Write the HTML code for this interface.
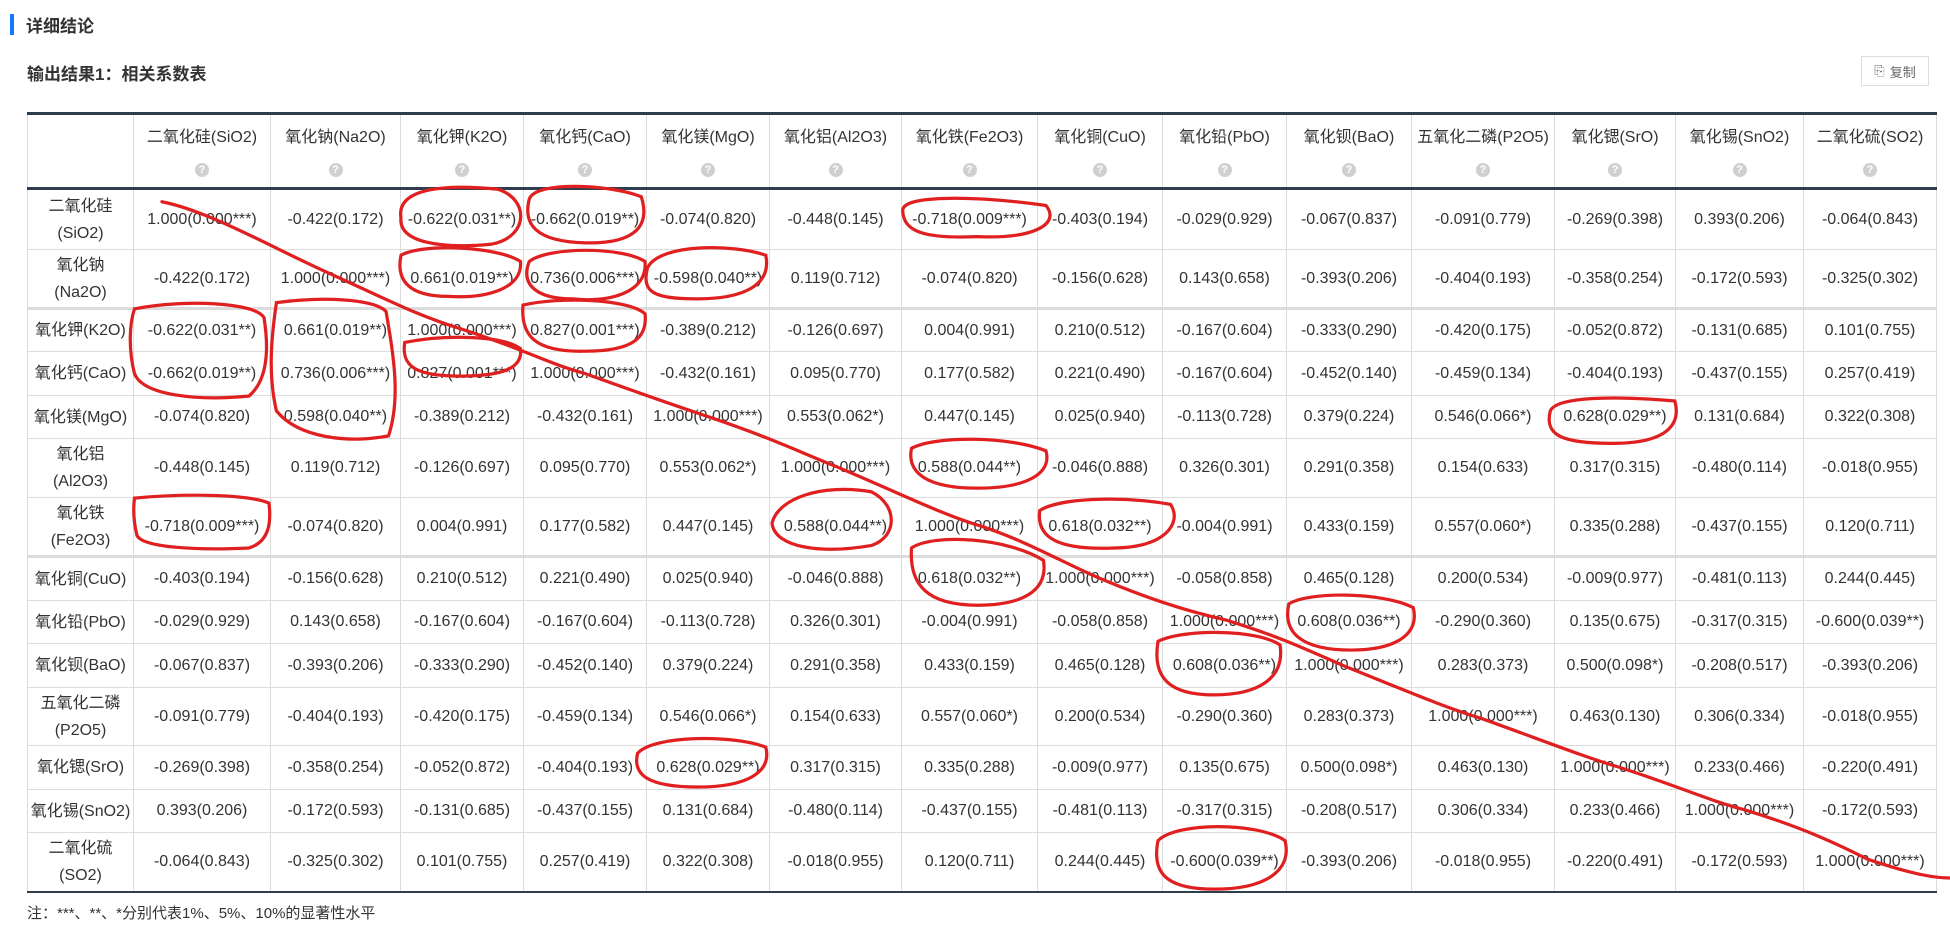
<!DOCTYPE html>
<html><head><meta charset="utf-8">
<style>
html,body{margin:0;padding:0;background:#fff;width:1950px;height:934px;overflow:hidden;position:relative;font-family:"Liberation Sans","Noto Sans CJK SC",sans-serif;color:#333}
.bar{position:absolute;left:10px;top:14px;width:4px;height:21px;background:#1677ff}
.t1{position:absolute;left:26px;top:12px;font-size:17px;font-weight:bold;color:#333}
.t2{position:absolute;left:27px;top:60px;font-size:17px;font-weight:bold;color:#333}
.copy{position:absolute;left:1861px;top:56px;width:68px;height:30px;border:1px solid #ddd;box-sizing:border-box;font-size:13px;color:#666;display:flex;align-items:center;justify-content:center;gap:5px}
table{position:absolute;left:27px;top:112px;border-collapse:collapse;table-layout:fixed;font-size:16px}
td,th{border:1px solid #dcdcdc;text-align:center;padding:0;font-weight:normal;white-space:nowrap;overflow:hidden}
thead tr th{border-top:3px solid #2f3e4e;border-bottom:3px solid #2f3e4e;vertical-align:top;padding-top:8px}
tbody tr:last-child td{border-bottom:2px solid #2f3e4e}
.q{display:inline-block;width:14px;height:14px;border-radius:50%;background:#d0d0d0;color:#fff;font-size:11px;line-height:14px;margin-top:16px;font-weight:bold}
.thick td{border-bottom:3px solid #dcdcdc}
.note{position:absolute;left:27px;top:902px;font-size:15px;color:#333}
svg.ann{position:absolute;left:0;top:0;pointer-events:none}
</style></head><body>
<div class="bar"></div>
<div class="t1">详细结论</div>
<div class="t2">输出结果1：相关系数表</div>
<div class="copy"><span>⎘</span><span>复制</span></div>
<table id="tbl"></table>
<div class="note">注：***、**、*分别代表1%、5%、10%的显著性水平</div>
<svg class="ann" width="1950" height="934" viewBox="0 0 1566 750" preserveAspectRatio="none" fill="none" stroke="#e02020" stroke-width="2.6" stroke-linecap="round">
<path d="M130,162 C170,170 220,200 270,222 C320,245 340,255 370,264 C420,280 440,292 470,300 C520,318 540,325 570,335 C620,352 640,362 670,374 C720,395 750,410 780,420 C820,432 850,450 880,463 C920,480 950,490 985,498 C1030,512 1050,522 1080,535 C1130,555 1160,568 1190,577 C1240,595 1270,607 1300,616 C1350,632 1370,642 1400,650 C1450,665 1480,680 1500,690 C1530,700 1550,705 1566,705"/>
<path d="M322,175 C318,150 360,148 400,152 C425,160 425,190 395,196 C355,200 320,195 322,175Z"/>
<path d="M425,160 C430,145 490,148 515,158 C522,180 512,196 470,195 C430,194 420,180 425,160Z"/>
<path d="M725,170 C722,155 790,158 840,165 C852,180 830,192 785,190 C740,192 726,185 725,170Z"/>
<path d="M322,205 C340,195 400,198 418,210 C420,232 390,240 360,238 C328,238 318,225 322,205Z"/>
<path d="M425,210 C440,198 500,198 518,210 C520,235 490,243 460,240 C430,240 418,228 425,210Z"/>
<path d="M520,215 C530,195 590,196 615,205 C620,230 595,240 560,240 C525,240 515,235 520,215Z"/>
<path d="M108,248 C150,240 205,243 212,255 C216,280 215,305 200,318 C160,322 115,318 108,300 C103,280 104,260 108,248Z"/>
<path d="M222,243 C260,238 300,240 310,250 C316,285 322,320 312,350 C280,356 240,352 222,330 C215,300 218,270 222,243Z"/>
<path d="M420,245 C450,238 505,240 518,252 C520,270 510,282 470,282 C430,283 418,270 420,245Z"/>
<path d="M325,275 C360,268 405,270 418,280 C420,295 405,302 370,302 C335,302 322,295 325,275Z"/>
<path d="M1245,330 C1250,318 1300,318 1345,322 C1350,340 1340,356 1295,356 C1255,356 1240,350 1245,330Z"/>
<path d="M732,360 C750,350 810,350 840,362 C845,380 825,392 785,392 C745,392 728,380 732,360Z"/>
<path d="M108,400 C150,396 200,397 216,404 C218,420 216,435 200,440 C160,442 115,440 110,430 C107,418 107,408 108,400Z"/>
<path d="M620,420 C625,400 660,388 700,395 C720,405 722,430 700,438 C660,445 622,440 620,420Z"/>
<path d="M835,410 C850,400 900,398 940,405 C950,420 935,440 895,440 C850,442 832,432 835,410Z"/>
<path d="M732,440 C750,428 810,432 838,450 C842,475 820,486 785,486 C745,486 730,470 732,440Z"/>
<path d="M1035,485 C1050,475 1110,475 1135,488 C1140,510 1120,522 1085,522 C1045,522 1030,508 1035,485Z"/>
<path d="M930,515 C950,505 1010,505 1028,518 C1032,545 1010,558 975,558 C940,558 925,545 930,515Z"/>
<path d="M512,605 C525,590 590,590 615,600 C620,620 600,632 560,632 C520,632 508,622 512,605Z"/>
<path d="M930,675 C945,660 1010,660 1032,675 C1038,700 1015,714 975,714 C935,714 925,700 930,675Z"/>
</svg>
<script>
const colNames = ["二氧化硅(SiO2)","氧化钠(Na2O)","氧化钾(K2O)","氧化钙(CaO)","氧化镁(MgO)","氧化铝(Al2O3)","氧化铁(Fe2O3)","氧化铜(CuO)","氧化铅(PbO)","氧化钡(BaO)","五氧化二磷(P2O5)","氧化锶(SrO)","氧化锡(SnO2)","二氧化硫(SO2)"];
const rowNames = ["二氧化硅<br>(SiO2)","氧化钠<br>(Na2O)","氧化钾(K2O)","氧化钙(CaO)","氧化镁(MgO)","氧化铝<br>(Al2O3)","氧化铁<br>(Fe2O3)","氧化铜(CuO)","氧化铅(PbO)","氧化钡(BaO)","五氧化二磷<br>(P2O5)","氧化锶(SrO)","氧化锡(SnO2)","二氧化硫<br>(SO2)"];
const r0 = ["1.000(0.000***)","-0.422(0.172)","-0.622(0.031**)","-0.662(0.019**)","-0.074(0.820)","-0.448(0.145)","-0.718(0.009***)","-0.403(0.194)","-0.029(0.929)","-0.067(0.837)","-0.091(0.779)","-0.269(0.398)","0.393(0.206)","-0.064(0.843)"];
const r1 = ["-0.422(0.172)","1.000(0.000***)","0.661(0.019**)","0.736(0.006***)","-0.598(0.040**)","0.119(0.712)","-0.074(0.820)","-0.156(0.628)","0.143(0.658)","-0.393(0.206)","-0.404(0.193)","-0.358(0.254)","-0.172(0.593)","-0.325(0.302)"];
const r2 = ["-0.622(0.031**)","0.661(0.019**)","1.000(0.000***)","0.827(0.001***)","-0.389(0.212)","-0.126(0.697)","0.004(0.991)","0.210(0.512)","-0.167(0.604)","-0.333(0.290)","-0.420(0.175)","-0.052(0.872)","-0.131(0.685)","0.101(0.755)"];
const r3 = ["-0.662(0.019**)","0.736(0.006***)","0.827(0.001***)","1.000(0.000***)","-0.432(0.161)","0.095(0.770)","0.177(0.582)","0.221(0.490)","-0.167(0.604)","-0.452(0.140)","-0.459(0.134)","-0.404(0.193)","-0.437(0.155)","0.257(0.419)"];
const r4 = ["-0.074(0.820)","0.598(0.040**)","-0.389(0.212)","-0.432(0.161)","1.000(0.000***)","0.553(0.062*)","0.447(0.145)","0.025(0.940)","-0.113(0.728)","0.379(0.224)","0.546(0.066*)","0.628(0.029**)","0.131(0.684)","0.322(0.308)"];
const r5 = ["-0.448(0.145)","0.119(0.712)","-0.126(0.697)","0.095(0.770)","0.553(0.062*)","1.000(0.000***)","0.588(0.044**)","-0.046(0.888)","0.326(0.301)","0.291(0.358)","0.154(0.633)","0.317(0.315)","-0.480(0.114)","-0.018(0.955)"];
const r6 = ["-0.718(0.009***)","-0.074(0.820)","0.004(0.991)","0.177(0.582)","0.447(0.145)","0.588(0.044**)","1.000(0.000***)","0.618(0.032**)","-0.004(0.991)","0.433(0.159)","0.557(0.060*)","0.335(0.288)","-0.437(0.155)","0.120(0.711)"];
const r7 = ["-0.403(0.194)","-0.156(0.628)","0.210(0.512)","0.221(0.490)","0.025(0.940)","-0.046(0.888)","0.618(0.032**)","1.000(0.000***)","-0.058(0.858)","0.465(0.128)","0.200(0.534)","-0.009(0.977)","-0.481(0.113)","0.244(0.445)"];
const r8 = ["-0.029(0.929)","0.143(0.658)","-0.167(0.604)","-0.167(0.604)","-0.113(0.728)","0.326(0.301)","-0.004(0.991)","-0.058(0.858)","1.000(0.000***)","0.608(0.036**)","-0.290(0.360)","0.135(0.675)","-0.317(0.315)","-0.600(0.039**)"];
const r9 = ["-0.067(0.837)","-0.393(0.206)","-0.333(0.290)","-0.452(0.140)","0.379(0.224)","0.291(0.358)","0.433(0.159)","0.465(0.128)","0.608(0.036**)","1.000(0.000***)","0.283(0.373)","0.500(0.098*)","-0.208(0.517)","-0.393(0.206)"];
const r10 = ["-0.091(0.779)","-0.404(0.193)","-0.420(0.175)","-0.459(0.134)","0.546(0.066*)","0.154(0.633)","0.557(0.060*)","0.200(0.534)","-0.290(0.360)","0.283(0.373)","1.000(0.000***)","0.463(0.130)","0.306(0.334)","-0.018(0.955)"];
const r11 = ["-0.269(0.398)","-0.358(0.254)","-0.052(0.872)","-0.404(0.193)","0.628(0.029**)","0.317(0.315)","0.335(0.288)","-0.009(0.977)","0.135(0.675)","0.500(0.098*)","0.463(0.130)","1.000(0.000***)","0.233(0.466)","-0.220(0.491)"];
const r12 = ["0.393(0.206)","-0.172(0.593)","-0.131(0.685)","-0.437(0.155)","0.131(0.684)","-0.480(0.114)","-0.437(0.155)","-0.481(0.113)","-0.317(0.315)","-0.208(0.517)","0.306(0.334)","0.233(0.466)","1.000(0.000***)","-0.172(0.593)"];
const r13 = ["-0.064(0.843)","-0.325(0.302)","0.101(0.755)","0.257(0.419)","0.322(0.308)","-0.018(0.955)","0.120(0.711)","0.244(0.445)","-0.600(0.039**)","-0.393(0.206)","-0.018(0.955)","-0.220(0.491)","-0.172(0.593)","1.000(0.000***)"];
const rows = [r0,r1,r2,r3,r4,r5,r6,r7,r8,r9,r10,r11,r12,r13];

const colW = [106,137,130,123,123,123,132,136,125,124,125,143,121,128,133];
const rowH = [61,59,43,44,43,59,59,44,43,44,58,44,43,59];
const tbl = document.getElementById('tbl');
const cg = document.createElement('colgroup');
colW.forEach(w=>{const c=document.createElement('col');c.style.width=w+'px';cg.appendChild(c);});
tbl.appendChild(cg);
tbl.style.width = colW.reduce((a,b)=>a+b,0)+'px';
const thead = document.createElement('thead');
const hr = document.createElement('tr');
hr.style.height='75px';
const corner = document.createElement('th');


hr.appendChild(corner);
colNames.forEach(n=>{
  const th=document.createElement('th');
  
  
  th.innerHTML = n+'<br><span class="q">?</span>';
  hr.appendChild(th);
});
thead.appendChild(hr);
tbl.appendChild(thead);
const tb = document.createElement('tbody');
rows.forEach((r,i)=>{
  const tr=document.createElement('tr');
  tr.style.height=rowH[i]+'px';
  if(i===1||i===6) tr.className='thick';
  const th=document.createElement('td');
  
  
  th.style.lineHeight='27px';
  th.innerHTML=rowNames[i];
  tr.appendChild(th);
  r.forEach(v=>{
    const td=document.createElement('td');
    
    
    td.textContent=v;
    tr.appendChild(td);
  });
  tb.appendChild(tr);
});
tbl.appendChild(tb);
</script>
</body></html>
